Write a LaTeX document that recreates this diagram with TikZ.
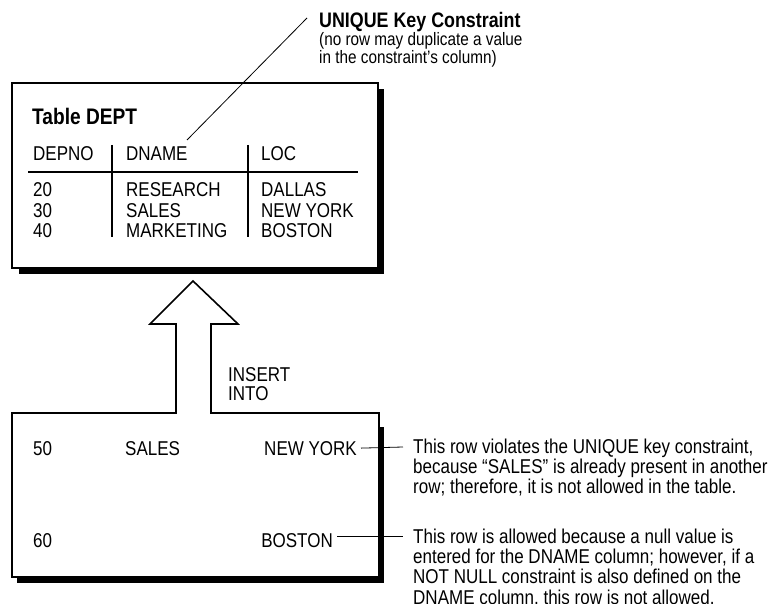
\documentclass[tikz,border=0pt]{standalone}
\usepackage{fontspec}
\setmainfont[FakeStretch=0.85]{Liberation Sans}
\newcommand{\mytxt}{\fontsize{20}{19.5}\selectfont}
\newcommand{\rowtxt}{\fontsize{20}{20.5}\selectfont}
\newcommand{\annotxt}{\fontsize{18}{15.5}\selectfont}
\newcommand{\stack}[1]{\begin{tabular}[t]{@{}l@{}}#1\end{tabular}}
\tikzset{
  txt/.style={anchor=base west, inner sep=0pt, font=\mytxt},
  rtxt/.style={anchor=base east, inner sep=0pt, font=\mytxt},
  boxline/.style={line width=1.6pt, fill=white},
  shadowfill/.style={fill=black},
  shaftline/.style={line width=2.8pt, line cap=square},
  leader/.style={line width=0.8pt},
  colrule/.style={line width=1.8pt}
}
\begin{document}
\begin{tikzpicture}[x=1pt,y=-1pt]
\useasboundingbox (0,0) rectangle (774,604);
% ---------- top box (Table DEPT) ----------
\fill[shadowfill] (19,89) rectangle (384,274);
\draw[boxline] (12,83) rectangle (378,268);
\node[txt, font=\fontsize{22.5}{24}\selectfont\bfseries] (title) at (32,125) {Table DEPT};
\node[txt] (depno) at (33,161) {DEPNO};
\node[txt] (dname) at (126,161) {DNAME};
\node[txt] (loc) at (261,161) {LOC};
\draw[line width=1.4pt] (28,172) -- (358,172);
\draw[colrule] (112,145) -- (112,237);
\draw[colrule] (248,145) -- (248,237);
\node[txt, font=\rowtxt] (c1) at (33,197) {\stack{20\\30\\40}};
\node[txt, font=\rowtxt] (c2) at (126,197) {\stack{RESEARCH\\SALES\\MARKETING}};
\node[txt, font=\rowtxt] (c3) at (261,197) {\stack{DALLAS\\NEW YORK\\BOSTON}};
% ---------- annotation ----------
\node[txt, font=\annotxt] (uq) at (319,28) {\stack{\fontsize{21}{15.5}\selectfont\bfseries UNIQUE Key Constraint\\(no row may duplicate a value\\in the constraint’s column)}};
\coordinate (uqend) at (307,18);
\coordinate (dnend) at (187,140);
\draw[leader] (dnend) -- (uqend);
% ---------- bottom box with arrow ----------
\fill[shadowfill] (17,427) rectangle (384,583);
\draw[boxline, line join=miter] (12,413) -- (176,413) -- (176,324) -- (150,324) -- (193,281)
  -- (238,324) -- (211,324) -- (211,413) -- (379,413) -- (379,577) -- (12,577) -- cycle;
\draw[shaftline] (176,412) -- (176,324) -- (151,324);
\draw[shaftline] (211,412) -- (211,324);
\node[txt] (ins) at (228,381) {\stack{INSERT\\INTO}};
\node[txt] (r50) at (33,455) {50};
\node[txt] (sales) at (125,455) {SALES};
\node[rtxt] (ny) at (357,455) {NEW YORK};
\node[txt] (r60) at (33,547) {60};
\node[rtxt] (bos) at (333,547) {BOSTON};
% ---------- notes ----------
\node[txt] (n1) at (413,453) {\stack{This row violates the UNIQUE key constraint,\\because “SALES” is already present in another\\row; therefore, it is not allowed in the table.}};
\node[txt] (n2) at (413,543) {\stack{This row is allowed because a null value is\\entered for the DNAME column; however, if a\\NOT NULL constraint is also defined on the\\DNAME column, this row is not allowed.}};
\coordinate (l1) at (403,447);
\coordinate (l2) at (403,536);
\draw[leader] ([xshift=4]ny.east) -- (l1);
\draw[leader] ([xshift=4]bos.east |- l2) -- (l2);
\end{tikzpicture}
\end{document}
